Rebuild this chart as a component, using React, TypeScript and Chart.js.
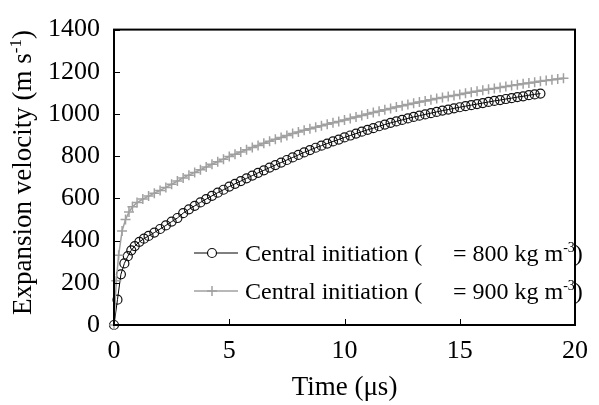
import React, { useEffect, useRef } from "react";
import { Chart, registerables } from "chart.js";

Chart.register(...registerables);

const FONT = "'Liberation Serif', 'Times New Roman', 'DejaVu Serif', serif";

// Series A: Central initiation (rho = 800 kg m-3) — open circles, black
const timeA = [
  0, 0.15, 0.3, 0.45, 0.6, 0.75, 0.9, 1.1, 1.3, 1.5, 1.75,
  2.0, 2.25, 2.5, 2.75, 3.0, 3.25, 3.5, 3.75, 4.0, 4.25,
  4.5, 4.75, 5.0, 5.25, 5.5, 5.75, 6.0, 6.25, 6.5, 6.75,
  7.0, 7.25, 7.5, 7.75, 8.0, 8.25, 8.5, 8.75, 9.0, 9.25,
  9.5, 9.75, 10.0, 10.25, 10.5, 10.75, 11.0, 11.25, 11.5, 11.75,
  12.0, 12.25, 12.5, 12.75, 13.0, 13.25, 13.5, 13.75, 14.0, 14.25,
  14.5, 14.75, 15.0, 15.25, 15.5, 15.75, 16.0, 16.25, 16.5, 16.75,
  17.0, 17.25, 17.5, 17.75, 18.0, 18.25, 18.5,
];
const velA = [
  0, 120, 240, 292, 326, 354, 374, 394, 409, 422, 438,
  455, 472, 490, 507, 530, 548, 565, 581, 597, 612,
  627, 641, 656, 669, 682, 695, 708, 721, 733, 746,
  758, 770, 782, 794, 806, 818, 829, 840, 850, 860,
  870, 879, 889, 898, 907, 916, 925, 933, 942, 950,
  958, 965, 972, 979, 986, 992, 998, 1004, 1010, 1016,
  1021, 1027, 1032, 1037, 1042, 1047, 1052, 1057, 1062, 1066,
  1071, 1075, 1080, 1084, 1089, 1093, 1097,
];

// Series B: Central initiation (rho = 900 kg m-3) — plus markers, grey
const timeB = [
  0, 0.1, 0.2, 0.35, 0.5, 0.65, 0.8, 1.0, 1.25, 1.5, 1.75,
  2.0, 2.25, 2.5, 2.75, 3.0, 3.25, 3.5, 3.75, 4.0, 4.25,
  4.5, 4.75, 5.0, 5.25, 5.5, 5.75, 6.0, 6.25, 6.5, 6.75,
  7.0, 7.25, 7.5, 7.75, 8.0, 8.25, 8.5, 8.75, 9.0, 9.25,
  9.5, 9.75, 10.0, 10.25, 10.5, 10.75, 11.0, 11.25, 11.5, 11.75,
  12.0, 12.25, 12.5, 12.75, 13.0, 13.25, 13.5, 13.75, 14.0, 14.25,
  14.5, 14.75, 15.0, 15.25, 15.5, 15.75, 16.0, 16.25, 16.5, 16.75,
  17.0, 17.25, 17.5, 17.75, 18.0, 18.25, 18.5, 18.75, 19.0, 19.25,
  19.5,
];
const velB = [
  0, 210, 330, 445, 500, 535, 560, 580, 597, 611, 625,
  638, 652, 667, 682, 697, 710, 723, 736, 749, 762,
  774, 786, 798, 809, 820, 831, 841, 851, 861, 871,
  880, 889, 898, 907, 915, 923, 930, 937, 944, 951,
  958, 965, 972, 979, 986, 993, 1000, 1007, 1013, 1020,
  1026, 1033, 1039, 1045, 1051, 1057, 1062, 1068, 1073, 1078,
  1083, 1088, 1093, 1098, 1103, 1108, 1112, 1117, 1121, 1126,
  1130, 1135, 1139, 1143, 1147, 1151, 1155, 1159, 1162, 1166,
  1170,
];

const seriesNames = ["Central initiation (", "Central initiation ("];
const seriesDensity = ["= 800 kg m", "= 900 kg m"];
const densityUnitSup = "-3";

const xTickValues = [0, 5, 10, 15, 20];
const yTickValues = [0, 200, 400, 600, 800, 1000, 1200, 1400];

const xTitle = "Time (\u03bcs)";
const yTitleMain = "Expansion velocity (m s";
const yTitleSup = "-1";
const yTitleEnd = ")";

const frameAndTicks = {
  id: "frameAndTicks",
  afterDraw(chart: any) {
    const { ctx, chartArea } = chart;
    const xs = chart.scales.x;
    const ys = chart.scales.y;
    ctx.save();
    ctx.strokeStyle = "#000";
    ctx.lineWidth = 1;
    ctx.beginPath();
    xTickValues.forEach((v) => {
      const px = Math.round(xs.getPixelForValue(v)) + 0.5;
      ctx.moveTo(px, chartArea.bottom);
      ctx.lineTo(px, chartArea.bottom - 6);
    });
    yTickValues.forEach((v) => {
      const py = Math.round(ys.getPixelForValue(v)) + 0.5;
      ctx.moveTo(chartArea.left, py);
      ctx.lineTo(chartArea.left + 6, py);
    });
    ctx.stroke();
    ctx.lineWidth = 2;
    ctx.strokeRect(
      chartArea.left,
      chartArea.top,
      chartArea.right - chartArea.left,
      chartArea.bottom - chartArea.top
    );

    // y-axis title with a true superscript
    ctx.fillStyle = "#000";
    ctx.textBaseline = "alphabetic";
    ctx.textAlign = "left";
    ctx.font = `27px ${FONT}`;
    const w1 = ctx.measureText(yTitleMain).width;
    const w3 = ctx.measureText(yTitleEnd).width;
    ctx.font = `17px ${FONT}`;
    const w2 = ctx.measureText(yTitleSup).width;
    const total = w1 + w2 + w3;
    const cy = 172.5;
    ctx.translate(31, cy);
    ctx.rotate(-Math.PI / 2);
    const sx = -total / 2;
    ctx.font = `27px ${FONT}`;
    ctx.fillText(yTitleMain, sx, 0);
    ctx.font = `17px ${FONT}`;
    ctx.fillText(yTitleSup, sx + w1, -10);
    ctx.font = `27px ${FONT}`;
    ctx.fillText(yTitleEnd, sx + w1 + w2, 0);
    ctx.restore();
  },
};

const legendOrder = [1, 0];

const customLegend = {
  id: "customLegend",
  afterDraw(chart: any) {
    const { ctx } = chart;
    const rows = [253, 291];
    ctx.save();
    legendOrder.forEach((dsIndex: number, i: number) => {
      const ds = chart.data.datasets[dsIndex];
      const y = rows[i];
      const x0 = 194;
      const x1 = 238;
      const cx = 212;
      ctx.strokeStyle = ds.borderColor;
      ctx.lineWidth = ds.borderWidth;
      ctx.beginPath();
      ctx.moveTo(x0, y);
      ctx.lineTo(x1, y);
      ctx.stroke();
      ctx.lineWidth = ds.pointBorderWidth;
      ctx.strokeStyle = ds.pointBorderColor;
      if (ds.pointStyle === "circle") {
        ctx.fillStyle = "#fff";
        ctx.beginPath();
        ctx.arc(cx, y, ds.pointRadius, 0, Math.PI * 2);
        ctx.fill();
        ctx.stroke();
      } else {
        const r = ds.pointRadius;
        ctx.beginPath();
        ctx.moveTo(cx - r, y);
        ctx.lineTo(cx + r, y);
        ctx.moveTo(cx, y - r);
        ctx.lineTo(cx, y + r);
        ctx.stroke();
      }
      ctx.fillStyle = "#000";
      ctx.textBaseline = "alphabetic";
      ctx.textAlign = "left";
      ctx.font = `24px ${FONT}`;
      const base = y + 8;
      ctx.fillText(seriesNames[i], 245, base);
      const dx = 453;
      ctx.fillText(seriesDensity[i], dx, base);
      const w = ctx.measureText(seriesDensity[i]).width;
      ctx.font = `14px ${FONT}`;
      ctx.fillText(densityUnitSup, dx + w, base - 9);
      const w2 = ctx.measureText(densityUnitSup).width;
      ctx.font = `24px ${FONT}`;
      ctx.fillText(")", dx + w + w2, base);
    });
    ctx.restore();
  },
};

export default function App() {
  const ref = useRef<HTMLCanvasElement | null>(null);

  useEffect(() => {
    if (!ref.current) return;
    const chart = new Chart(ref.current, {
      type: "line",
      data: {
        datasets: [
          {
            label: seriesNames[1] + seriesDensity[1],
            data: timeB.map((t, i) => ({ x: t, y: velB[i] })),
            borderColor: "#a0a0a0",
            borderWidth: 1.5,
            pointStyle: "cross",
            pointRadius: 5,
            pointBorderColor: "#a0a0a0",
            pointBorderWidth: 1.5,
            pointBackgroundColor: "#a0a0a0",
            tension: 0,
            fill: false,
            clip: false,
          } as any,
          {
            label: seriesNames[0] + seriesDensity[0],
            data: timeA.map((t, i) => ({ x: t, y: velA[i] })),
            borderColor: "#000",
            borderWidth: 1,
            pointStyle: "circle",
            pointRadius: 4.5,
            pointBorderColor: "#111",
            pointBorderWidth: 1.2,
            pointBackgroundColor: "rgba(0,0,0,0)",
            tension: 0,
            fill: false,
            clip: false,
          } as any,
        ],
      },
      options: {
        responsive: false,
        animation: false,
        devicePixelRatio: 1,
        layout: { padding: { top: 22, right: 14, left: 0, bottom: 0 } },
        plugins: {
          legend: { display: false },
          tooltip: { enabled: false },
        },
        scales: {
          x: {
            type: "linear",
            min: 0,
            max: 20,
            grid: { display: false, drawTicks: false },
            border: { display: false },
            ticks: {
              stepSize: 5,
              color: "#000",
              padding: 11,
              font: { family: FONT, size: 26 },
              callback: (v: any) => String(v),
            },
            title: {
              display: true,
              text: xTitle,
              color: "#000",
              font: { family: FONT, size: 27 },
              padding: { top: 0, bottom: 1 },
            },
            afterFit: (s: any) => {
              s.height = 80;
            },
          },
          y: {
            type: "linear",
            min: 0,
            max: 1400,
            grid: { display: false, drawTicks: false },
            border: { display: false },
            ticks: {
              stepSize: 200,
              color: "#000",
              padding: 14,
              font: { family: FONT, size: 26 },
              callback: (v: any) => String(v),
            },
            title: { display: false },
            afterFit: (s: any) => {
              s.width = 114;
            },
          },
        },
      },
      plugins: [frameAndTicks, customLegend],
    });
    return () => chart.destroy();
  }, []);

  return (
    <div
      style={{
        position: "absolute",
        left: 0,
        top: 0,
        width: 599,
        height: 405,
        background: "#fff",
      }}
    >
      <canvas
        ref={ref}
        width={599}
        height={405}
        style={{ width: 599, height: 405, display: "block" }}
      />
    </div>
  );
}
